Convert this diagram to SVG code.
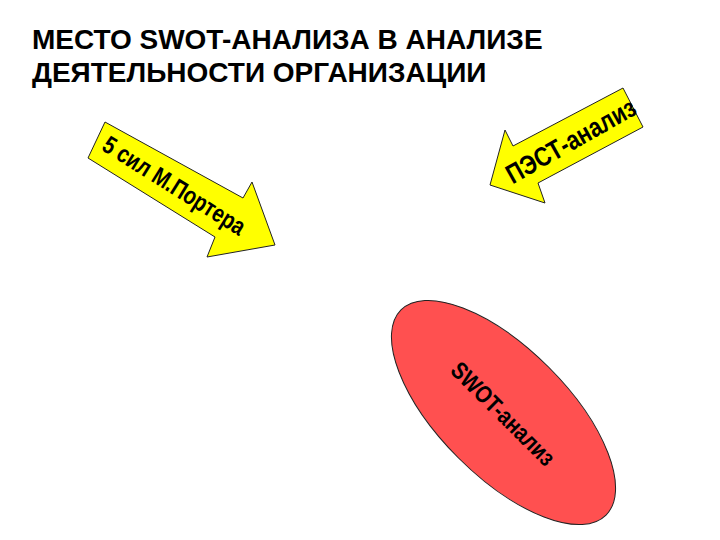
<svg xmlns="http://www.w3.org/2000/svg" width="720" height="540" viewBox="0 0 720 540">
<style>
.title{font-family:"Liberation Sans",Arial,sans-serif;font-weight:bold;font-size:28px;fill:#000}
.lbl{font-family:"Liberation Sans",Arial,sans-serif;font-weight:bold;fill:#000;text-anchor:middle}
.arrow{fill:#FFFF00;stroke:#222;stroke-width:1}
.oval{fill:#FF5050;stroke:#222;stroke-width:1}
</style>
<rect width="720" height="540" fill="#fff"/>
<g id="title">
<text class="title" x="32" y="49">МЕСТО SWOT-АНАЛИЗА В АНАЛИЗЕ</text>
<text class="title" x="32" y="82">ДЕЯТЕЛЬНОСТИ ОРГАНИЗАЦИИ</text>
</g>
<g id="connectors">
<g id="porter-arrow">
<polygon class="arrow" points="105,122 243,198 252,182 275,245 207,257 215,237 88,158"/>
<text class="lbl" font-size="25" transform="translate(174,186) rotate(32) scale(0.8,1)" y="8">5 сил М.Портера</text>
</g>
<g id="pest-arrow">
<polygon class="arrow" points="623,88 643,127 538,183 545,203 490,185 505,130 513,146"/>
<text class="lbl" font-size="27" transform="translate(571,141) rotate(-29.5) scale(0.82,1)" y="9">ПЭСТ-анализ</text>
</g>
</g>
<g id="swot">
<ellipse class="oval" cx="503.5" cy="412.5" rx="145" ry="64" transform="rotate(45 503.5 412.5)"/>
<text class="lbl" font-size="24" transform="translate(503,414) rotate(45) scale(0.84,1)" y="8">SWOT-анализ</text>
</g>
</svg>
